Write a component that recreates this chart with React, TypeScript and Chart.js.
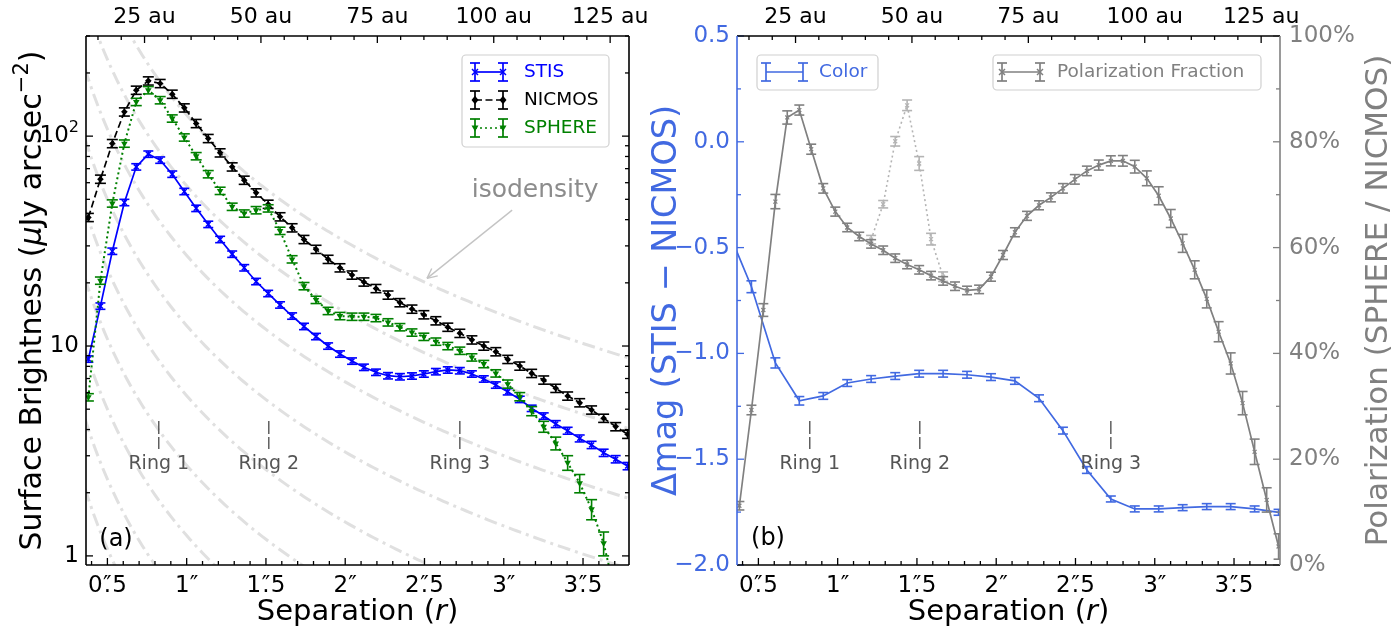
import React, { useEffect, useRef } from "react";
import { Chart, registerables } from "chart.js";

Chart.register(...registerables);

const W = 1395;
const H = 633;
const FONT = '"DejaVu Sans", "Liberation Sans", Arial, sans-serif';

// ---------------- data ----------------
const SEP = [
  0.380, 0.456, 0.531, 0.607, 0.682, 0.758, 0.833, 0.909, 0.985, 1.060,
  1.136, 1.211, 1.287, 1.363, 1.438, 1.514, 1.589, 1.665, 1.740, 1.816,
  1.892, 1.967, 2.043, 2.118, 2.194, 2.270, 2.345, 2.421, 2.496, 2.572,
  2.647, 2.723, 2.799, 2.874, 2.950, 3.025, 3.101, 3.176, 3.252, 3.328,
  3.403, 3.479, 3.554, 3.630, 3.706, 3.781,
];
const STIS = [
  8.67, 15.5, 28.3, 48.3, 71.4, 82.1, 76.9, 65.9, 54.5, 45.3,
  38.0, 32.2, 27.4, 23.6, 20.3, 17.8, 15.7, 13.9, 12.4, 11.1,
  10.0, 9.16, 8.48, 7.92, 7.50, 7.22, 7.14, 7.20, 7.36, 7.55,
  7.69, 7.63, 7.36, 6.97, 6.52, 6.06, 5.57, 5.05, 4.64, 4.25,
  3.95, 3.63, 3.38, 3.10, 2.89, 2.68,
];
const STIS_ERR = [
  0.035, 0.035, 0.035, 0.035, 0.035, 0.035, 0.035, 0.035, 0.035, 0.035,
  0.035, 0.035, 0.035, 0.035, 0.035, 0.035, 0.035, 0.035, 0.035, 0.035,
  0.035, 0.035, 0.035, 0.035, 0.035, 0.035, 0.035, 0.035, 0.035, 0.035,
  0.035, 0.035, 0.035, 0.035, 0.035, 0.035, 0.035, 0.035, 0.035, 0.038,
  0.038, 0.038, 0.04, 0.04, 0.04, 0.04,
];
const NICMOS = [
  41.0, 62.4, 92.2, 130.5, 165.6, 183.4, 178.2, 158.5, 136.4, 114.9,
  97.5, 83.3, 71.4, 61.7, 53.7, 47.4, 41.3, 36.6, 32.2, 28.9,
  25.9, 23.6, 21.8, 20.2, 18.8, 17.5, 16.1, 15.0, 14.1, 13.2,
  12.3, 11.5, 10.7, 10.0, 9.40, 8.64, 8.03, 7.41, 6.89, 6.29,
  5.78, 5.37, 4.96, 4.53, 4.13, 3.80,
];
const NICMOS_ERR = [
  0.045, 0.045, 0.045, 0.045, 0.045, 0.045, 0.045, 0.045, 0.045, 0.045,
  0.045, 0.045, 0.045, 0.045, 0.045, 0.045, 0.045, 0.045, 0.045, 0.045,
  0.045, 0.045, 0.045, 0.045, 0.045, 0.045, 0.045, 0.045, 0.045, 0.045,
  0.045, 0.045, 0.045, 0.045, 0.045, 0.045, 0.045, 0.045, 0.045, 0.045,
  0.045, 0.045, 0.045, 0.045, 0.045, 0.045,
];
const SPHERE = [
  5.70, 20.5, 47.8, 92.2, 145.6, 165.6, 148.4, 121.4, 98.6, 80.3,
  65.9, 54.9, 46.1, 42.8, 44.4, 45.3, 35.4, 25.9, 19.3, 16.6,
  14.7, 13.9, 13.8, 13.8, 13.6, 12.97, 12.3, 11.6, 11.07, 10.5,
  10.0, 9.50, 8.83, 8.21, 7.41, 6.59, 5.74, 4.90, 4.13, 3.44,
  2.78, 2.22, 1.67, 1.15, 0.65,
];
const SPHERE_ERR = [
  0.04, 0.04, 0.04, 0.04, 0.04, 0.04, 0.04, 0.04, 0.04, 0.04,
  0.04, 0.04, 0.04, 0.04, 0.04, 0.04, 0.04, 0.04, 0.04, 0.04,
  0.04, 0.04, 0.04, 0.04, 0.04, 0.04, 0.04, 0.04, 0.04, 0.04,
  0.04, 0.04, 0.04, 0.04, 0.04, 0.045, 0.045, 0.05, 0.06, 0.07,
  0.08, 0.10, 0.11, 0.13, 0.15,
];

const COLOR_SEP = [
  0.304, 0.456, 0.607, 0.758, 0.909, 1.060, 1.211, 1.363, 1.514, 1.665,
  1.816, 1.967, 2.118, 2.270, 2.421, 2.572, 2.723, 2.874, 3.025, 3.176,
  3.328, 3.479, 3.630, 3.781,
];
const COLOR = [
  -0.41, -0.685, -1.045, -1.224, -1.201, -1.140, -1.121, -1.107, -1.096, -1.096,
  -1.101, -1.112, -1.130, -1.212, -1.365, -1.551, -1.688, -1.735, -1.735, -1.729,
  -1.724, -1.724, -1.735, -1.751,
];
const COLOR_ERR = [
  0.03, 0.028, 0.024, 0.02, 0.016, 0.016, 0.016, 0.016, 0.016, 0.016,
  0.016, 0.016, 0.016, 0.016, 0.016, 0.016, 0.014, 0.014, 0.014, 0.014,
  0.014, 0.014, 0.014, 0.014,
];

const POL = [
  11.2, 29.3, 48.2, 68.7, 84.6, 86.0, 78.6, 71.2, 66.8, 63.8,
  62.1, 60.7, 59.5, 58.0, 56.8, 55.8, 54.7, 53.7, 52.7, 51.9,
  52.1, 54.5, 58.6, 62.9, 66.0, 68.0, 69.5, 71.2, 72.9, 74.5,
  75.6, 76.4, 76.4, 75.3, 73.1, 69.8, 65.5, 60.8, 55.8, 50.3,
  44.1, 38.1, 30.6, 21.4, 12.3, 3.5,
];
const POL_ERR = [
  0.8, 0.9, 1.2, 1.35, 1.25, 0.95, 0.95, 0.9, 0.85, 0.8,
  0.8, 0.8, 0.8, 0.8, 0.8, 0.8, 0.8, 0.8, 0.8, 0.8,
  0.8, 0.85, 0.85, 0.85, 0.85, 0.85, 0.85, 0.9, 0.9, 0.9,
  0.95, 0.95, 1.0, 1.2, 1.4, 1.7, 1.7, 1.7, 1.7, 1.7,
  1.9, 2.0, 2.2, 2.4, 2.3, 2.4,
];
const POL_ALT_SEP = [1.211, 1.287, 1.363, 1.438, 1.514, 1.589, 1.665];
const POL_ALT = [61.5, 68.2, 80.1, 86.9, 75.9, 61.6, 54.5];
const POL_ALT_ERR = [0.8, 0.7, 0.9, 1.0, 1.3, 1.1, 0.9];

// isodensity curve normalisations (SB at r = 1")
const ISO_NORMS = [126, 58, 27, 12.5, 5.8, 2.7, 1.25, 0.58, 0.27];

// axes / annotations
const X_MIN = 0.365;
const X_MAX = 3.79;
const AU_PER_ARCSEC = 34.05;
const X_MAJOR = [0.5, 1, 1.5, 2, 2.5, 3, 3.5];
const AU_MAJOR = [25, 50, 75, 100, 125];
const SB_MIN = 0.905;
const SB_MAX = 300;
const SB_MAJOR = [1, 10, 100];
const DMAG_MAJOR = [0.5, 0, -0.5, -1, -1.5, -2];
const DMAG_LABELS = ["0.5", "0.0", "\u22120.5", "\u22121.0", "\u22121.5", "\u22122.0"];
const POL_MAJOR = [0, 20, 40, 60, 80, 100];
const RINGS = [0.824, 1.518, 2.723];
const RING_LABELS = ["Ring 1", "Ring 2", "Ring 3"];

const C_STIS = "#0000ff";
const C_NIC = "#000000";
const C_SPH = "#008000";
const C_COLOR = "#4169e1";
const C_POL = "#808080";
const C_POL_ALT = "#b4b4b4";
const C_ISO = "#e0e0e0";

const FS_XTICK = 23;
const FS_TOP = 22;
const FS_YTICK = 23;
const FS_SEP_TITLE = 29;
const FS_SB_TITLE = 30;
const FS_DMAG_TITLE = 33.5;
const FS_POL_TITLE = 31;
const LEG_FS = 18.5;

// ---------------- helpers ----------------
const pts = (xs: number[], ys: number[]) => xs.map((x, i) => ({ x, y: ys[i] }));

function setFont(ctx: CanvasRenderingContext2D, fs: number, italic = false) {
  ctx.font = `${italic ? "italic " : ""}${fs}px ${FONT}`;
}

type Seg = { t: string; it?: boolean; sup?: boolean };
function richText(
  ctx: CanvasRenderingContext2D,
  segs: Seg[],
  cx: number,
  cy: number,
  fs: number,
  color: string,
  rot = 0,
  align: "center" | "left" | "right" = "center",
  vbase: "middle" | "alphabetic" = "middle"
) {
  ctx.save();
  ctx.translate(cx, cy);
  ctx.rotate(rot);
  const widths = segs.map((s) => {
    setFont(ctx, s.sup ? fs * 0.7 : fs, s.it);
    return ctx.measureText(s.t).width;
  });
  const total = widths.reduce((a, b) => a + b, 0);
  let x = align === "center" ? -total / 2 : align === "right" ? -total : 0;
  ctx.fillStyle = color;
  ctx.textBaseline = vbase;
  ctx.textAlign = "left";
  segs.forEach((s, i) => {
    setFont(ctx, s.sup ? fs * 0.7 : fs, s.it);
    ctx.fillText(s.t, x, s.sup ? -fs * 0.36 : 0);
    x += widths[i];
  });
  ctx.restore();
}

function arcsecLabel(ctx: CanvasRenderingContext2D, v: number, cx: number, cy: number, fs: number, color: string) {
  ctx.save();
  setFont(ctx, fs);
  ctx.fillStyle = color;
  ctx.textBaseline = "middle";
  ctx.textAlign = "left";
  const s = String(v);
  if (s.indexOf(".") < 0) {
    const t = s + "\u2033";
    const w = ctx.measureText(t).width;
    ctx.fillText(t, cx - w / 2, cy);
  } else {
    const [a, b] = s.split(".");
    const wa = ctx.measureText(a).width;
    const wd = fs * 0.42;
    const wb = ctx.measureText(b).width;
    const x = cx - (wa + wd + wb) / 2;
    ctx.fillText(a, x, cy);
    ctx.textAlign = "center";
    ctx.fillText(".", x + wa + wd / 2, cy);
    ctx.fillText("\u2033", x + wa + wd / 2, cy);
    ctx.textAlign = "left";
    ctx.fillText(b, x + wa + wd, cy);
  }
  ctx.restore();
}

function line(ctx: CanvasRenderingContext2D, x1: number, y1: number, x2: number, y2: number) {
  ctx.beginPath();
  ctx.moveTo(x1, y1);
  ctx.lineTo(x2, y2);
  ctx.stroke();
}

function marker(ctx: CanvasRenderingContext2D, type: string, x: number, y: number, r: number, color: string) {
  ctx.save();
  ctx.setLineDash([]);
  ctx.strokeStyle = color;
  ctx.fillStyle = color;
  ctx.lineWidth = 1.5;
  if (type === "x") {
    line(ctx, x - r, y - r, x + r, y + r);
    line(ctx, x - r, y + r, x + r, y - r);
  } else if (type === "D") {
    ctx.beginPath();
    ctx.moveTo(x, y - r * 1.2);
    ctx.lineTo(x + r, y);
    ctx.lineTo(x, y + r * 1.2);
    ctx.lineTo(x - r, y);
    ctx.closePath();
    ctx.fill();
  } else if (type === "v") {
    ctx.beginPath();
    ctx.moveTo(x - r, y - r * 0.7);
    ctx.lineTo(x + r, y - r * 0.7);
    ctx.lineTo(x, y + r * 1.0);
    ctx.closePath();
    ctx.fill();
  }
  ctx.restore();
}

function legendBox(ctx: CanvasRenderingContext2D, x: number, y: number, w: number, h: number) {
  ctx.save();
  ctx.beginPath();
  const r = 4;
  ctx.moveTo(x + r, y);
  ctx.arcTo(x + w, y, x + w, y + h, r);
  ctx.arcTo(x + w, y + h, x, y + h, r);
  ctx.arcTo(x, y + h, x, y, r);
  ctx.arcTo(x, y, x + w, y, r);
  ctx.closePath();
  ctx.fillStyle = "rgba(255,255,255,0.85)";
  ctx.fill();
  ctx.strokeStyle = "#d0d0d0";
  ctx.lineWidth = 1.2;
  ctx.stroke();
  ctx.restore();
}

function handle(
  ctx: CanvasRenderingContext2D,
  x1: number,
  x2: number,
  y: number,
  color: string,
  dash: number[],
  mtype: string
) {
  ctx.save();
  ctx.strokeStyle = color;
  ctx.lineWidth = 1.7;
  ctx.setLineDash(dash);
  line(ctx, x1, y, x2, y);
  ctx.setLineDash([]);
  ctx.lineWidth = 1.7;
  [x1, x2].forEach((x) => {
    line(ctx, x, y - 9, x, y + 9);
    line(ctx, x - 5, y - 9, x + 5, y - 9);
    line(ctx, x - 5, y + 9, x + 5, y + 9);
    if (mtype) marker(ctx, mtype, x, y, mtype === "x" ? 3 : 3.5, color);
  });
  ctx.restore();
}

function drawTicks(
  ctx: CanvasRenderingContext2D,
  side: "top" | "bottom" | "left" | "right",
  positions: number[],
  len: number,
  area: any,
  color: string
) {
  ctx.save();
  ctx.strokeStyle = color;
  ctx.lineWidth = 1.3;
  ctx.setLineDash([]);
  positions.forEach((p) => {
    if (side === "bottom") line(ctx, p, area.bottom, p, area.bottom - len);
    if (side === "top") line(ctx, p, area.top, p, area.top + len);
    if (side === "left") line(ctx, area.left, p, area.left + len, p);
    if (side === "right") line(ctx, area.right, p, area.right - len, p);
  });
  ctx.restore();
}

function arcsecAxes(ctx: CanvasRenderingContext2D, xs: any, area: any) {
  const maj: number[] = [];
  const min: number[] = [];
  for (let i = 4; i <= 37; i++) {
    const v = i / 10;
    if (v < X_MIN || v > X_MAX) continue;
    (i % 5 === 0 ? maj : min).push(xs.getPixelForValue(v));
  }
  drawTicks(ctx, "bottom", maj, 7, area, "#000");
  drawTicks(ctx, "bottom", min, 4, area, "#000");
  X_MAJOR.forEach((v) => arcsecLabel(ctx, v, xs.getPixelForValue(v), area.bottom + 21, FS_XTICK, "#000"));
  const amaj: number[] = [];
  const amin: number[] = [];
  for (let au = 5; au <= 125; au += 5) {
    const r = au / AU_PER_ARCSEC;
    if (r < X_MIN || r > X_MAX) continue;
    (au % 25 === 0 ? amaj : amin).push(xs.getPixelForValue(r));
  }
  drawTicks(ctx, "top", amaj, 7, area, "#000");
  drawTicks(ctx, "top", amin, 4, area, "#000");
  ctx.save();
  setFont(ctx, FS_TOP);
  ctx.fillStyle = "#000";
  ctx.textAlign = "center";
  ctx.textBaseline = "middle";
  AU_MAJOR.forEach((au) => ctx.fillText(`${au} au`, xs.getPixelForValue(au / AU_PER_ARCSEC), area.top - 19));
  ctx.restore();
  richText(
    ctx,
    [{ t: "Separation (" }, { t: "r", it: true }, { t: ")" }],
    (area.left + area.right) / 2,
    612,
    FS_SEP_TITLE,
    "#000"
  );
}

function rings(ctx: CanvasRenderingContext2D, xs: any, area: any) {
  ctx.save();
  RINGS.forEach((r, i) => {
    const x = xs.getPixelForValue(r);
    ctx.strokeStyle = "#555";
    ctx.lineWidth = 1.4;
    ctx.setLineDash([13, 3]);
    line(ctx, x, area.bottom - 144, x, area.bottom - 116);
    ctx.setLineDash([]);
    setFont(ctx, 19);
    ctx.fillStyle = "#555";
    ctx.textAlign = "center";
    ctx.textBaseline = "middle";
    ctx.fillText(RING_LABELS[i], x, area.bottom - 101);
  });
  ctx.restore();
}

function spines(ctx: CanvasRenderingContext2D, area: any, leftColor: string, rightColor: string) {
  ctx.save();
  ctx.lineWidth = 1.6;
  ctx.setLineDash([]);
  ctx.strokeStyle = "#000";
  line(ctx, area.left, area.top, area.right, area.top);
  line(ctx, area.left, area.bottom, area.right, area.bottom);
  ctx.strokeStyle = leftColor;
  line(ctx, area.left, area.top, area.left, area.bottom);
  ctx.strokeStyle = rightColor;
  line(ctx, area.right, area.top, area.right, area.bottom);
  ctx.restore();
}

// ---------------- plugins ----------------
const errorBarPlugin = {
  id: "errbars",
  afterDatasetDraw(chart: any, args: any) {
    const ds: any = chart.data.datasets[args.index];
    if (!ds.errs) return;
    const meta = args.meta;
    const xs = chart.scales[meta.xAxisID];
    const ys = chart.scales[meta.yAxisID];
    const ctx: CanvasRenderingContext2D = chart.ctx;
    const a = chart.chartArea;
    ctx.save();
    ctx.beginPath();
    ctx.rect(a.left, a.top, a.right - a.left, a.bottom - a.top);
    ctx.clip();
    ctx.strokeStyle = ds.borderColor;
    ctx.lineWidth = 1.6;
    ctx.setLineDash([]);
    const cap = ds.capHalf || 5;
    ds.data.forEach((p: any, i: number) => {
      const e = ds.errs[i];
      const x = xs.getPixelForValue(p.x);
      let lo = p.y - e;
      if (ys.type === "logarithmic" && lo <= 0) lo = ys.min * 0.01;
      const y1 = ys.getPixelForValue(lo);
      const y2 = ys.getPixelForValue(p.y + e);
      line(ctx, x, y1, x, y2);
      line(ctx, x - cap, y1, x + cap, y1);
      line(ctx, x - cap, y2, x + cap, y2);
    });
    ctx.restore();
  },
};

const leftDecor = {
  id: "leftDecor",
  afterDraw(chart: any) {
    const ctx: CanvasRenderingContext2D = chart.ctx;
    const a = chart.chartArea;
    const xs = chart.scales.x;
    const ys = chart.scales.y;
    // isodensity annotation
    ctx.save();
    const tx = xs.getPixelForValue(3.053), ty = ys.getPixelForValue(44.4);
    const hx = xs.getPixelForValue(2.516), hy = ys.getPixelForValue(21.0);
    ctx.strokeStyle = "#c4c4c4";
    ctx.lineWidth = 1.4;
    line(ctx, tx, ty, hx, hy);
    const ang = Math.atan2(hy - ty, hx - tx);
    const al = 11;
    line(ctx, hx, hy, hx - al * Math.cos(ang - 0.45), hy - al * Math.sin(ang - 0.45));
    line(ctx, hx, hy, hx - al * Math.cos(ang + 0.45), hy - al * Math.sin(ang + 0.45));
    setFont(ctx, 25);
    ctx.fillStyle = "#8c8c8c";
    ctx.textAlign = "center";
    ctx.textBaseline = "middle";
    ctx.fillText("isodensity", xs.getPixelForValue(3.198), ys.getPixelForValue(55.3));
    ctx.restore();

    rings(ctx, xs, a);

    // panel letter
    ctx.save();
    setFont(ctx, 24);
    ctx.fillStyle = "#000";
    ctx.textAlign = "center";
    ctx.textBaseline = "middle";
    ctx.fillText("(a)", a.left + 30, a.bottom - 25);
    ctx.restore();

    // legend
    legendBox(ctx, 462, 55, 147, 92);
    const entries = [
      { t: "STIS", c: C_STIS, d: [] as number[], m: "x", y: 72 },
      { t: "NICMOS", c: C_NIC, d: [7, 3.5], m: "D", y: 100 },
      { t: "SPHERE", c: C_SPH, d: [2, 3], m: "v", y: 128 },
    ];
    entries.forEach((e) => {
      handle(ctx, 475, 503, e.y, e.c, e.d, e.m);
      ctx.save();
      setFont(ctx, LEG_FS);
      ctx.fillStyle = e.c;
      ctx.textBaseline = "middle";
      ctx.textAlign = "left";
      ctx.fillText(e.t, 524, e.y);
      ctx.restore();
    });

    // y ticks (log)
    const maj: number[] = [];
    const min: number[] = [];
    [1, 10, 100].forEach((d) => {
      for (let m = 1; m <= 9; m++) {
        const v = d * m;
        if (v < SB_MIN || v > SB_MAX) continue;
        (m === 1 ? maj : min).push(ys.getPixelForValue(v));
      }
    });
    drawTicks(ctx, "left", maj, 7, a, "#000");
    drawTicks(ctx, "left", min, 4, a, "#000");
    drawTicks(ctx, "right", maj, 7, a, "#000");
    drawTicks(ctx, "right", min, 4, a, "#000");
    const lx = a.left - 7;
    richText(ctx, [{ t: "1" }], lx, ys.getPixelForValue(SB_MAJOR[0]), FS_YTICK, "#000", 0, "right");
    richText(ctx, [{ t: "10" }], lx, ys.getPixelForValue(SB_MAJOR[1]), FS_YTICK, "#000", 0, "right");
    richText(ctx, [{ t: "10" }, { t: "2", sup: true }], lx, ys.getPixelForValue(SB_MAJOR[2]), FS_YTICK, "#000", 0, "right");
    richText(
      ctx,
      [
        { t: "Surface Brightness (" },
        { t: "\u03bc", it: true },
        { t: "Jy arcsec" },
        { t: "\u22122", sup: true },
        { t: ")" },
      ],
      33,
      (a.top + a.bottom) / 2,
      FS_SB_TITLE,
      "#000",
      -Math.PI / 2
    );

    arcsecAxes(ctx, xs, a);
    spines(ctx, a, "#000", "#000");
  },
};

const rightDecor = {
  id: "rightDecor",
  afterDraw(chart: any) {
    const ctx: CanvasRenderingContext2D = chart.ctx;
    const a = chart.chartArea;
    const xs = chart.scales.x;
    const ys = chart.scales.y;
    const y2 = chart.scales.y2;

    rings(ctx, xs, a);

    ctx.save();
    setFont(ctx, 24);
    ctx.fillStyle = "#000";
    ctx.textAlign = "center";
    ctx.textBaseline = "middle";
    ctx.fillText("(b)", a.left + 31, a.bottom - 26);
    ctx.restore();

    // legends
    legendBox(ctx, 757, 55, 121, 35);
    handle(ctx, 766, 803, 72, C_COLOR, [], "");
    legendBox(ctx, 993, 55, 268, 35);
    handle(ctx, 1002, 1040, 72, C_POL, [], "x");
    ctx.save();
    setFont(ctx, LEG_FS);
    ctx.textBaseline = "middle";
    ctx.textAlign = "left";
    ctx.fillStyle = C_COLOR;
    ctx.fillText("Color", 819, 72);
    ctx.fillStyle = C_POL;
    ctx.fillText("Polarization Fraction", 1057, 72);
    ctx.restore();

    // left (delta mag) ticks
    const lmaj: number[] = [];
    const lmin: number[] = [];
    for (let i = -8; i <= 2; i++) {
      const v = i * 0.25;
      (i % 2 === 0 ? lmaj : lmin).push(ys.getPixelForValue(v));
    }
    drawTicks(ctx, "left", lmaj, 7, a, C_COLOR);
    drawTicks(ctx, "left", lmin, 4, a, C_COLOR);
    DMAG_MAJOR.forEach((v, i) =>
      richText(ctx, [{ t: DMAG_LABELS[i] }], a.left - 7, ys.getPixelForValue(v), FS_YTICK, C_COLOR, 0, "right")
    );
    // right (polarization) ticks
    const rmaj: number[] = [];
    const rmin: number[] = [];
    for (let p = 0; p <= 100; p += 10) (p % 20 === 0 ? rmaj : rmin).push(y2.getPixelForValue(p));
    drawTicks(ctx, "right", rmaj, 7, a, C_POL);
    drawTicks(ctx, "right", rmin, 4, a, C_POL);
    POL_MAJOR.forEach((p) =>
      richText(ctx, [{ t: `${p}%` }], a.right + 9, y2.getPixelForValue(p), FS_YTICK, C_POL, 0, "left")
    );

    richText(
      ctx,
      [{ t: "\u0394mag (STIS \u2212 NICMOS)" }],
      675.5,
      (a.top + a.bottom) / 2,
      FS_DMAG_TITLE,
      C_COLOR,
      -Math.PI / 2,
      "center",
      "alphabetic"
    );
    richText(
      ctx,
      [{ t: "Polarization (SPHERE / NICMOS)" }],
      1379,
      (a.top + a.bottom) / 2,
      FS_POL_TITLE,
      C_POL,
      -Math.PI / 2
    );

    arcsecAxes(ctx, xs, a);
    spines(ctx, a, C_COLOR, C_POL);
  },
};

// ---------------- component ----------------
export default function App() {
  const leftRef = useRef<HTMLCanvasElement | null>(null);
  const rightRef = useRef<HTMLCanvasElement | null>(null);

  useEffect(() => {
    const isoR: number[] = [];
    for (let r = 0.3; r <= 3.9; r += 0.02) isoR.push(r);
    const isoSets = ISO_NORMS.map((n) => ({
      label: "iso",
      data: isoR.map((r) => ({ x: r, y: n / (r * r) })),
      borderColor: C_ISO,
      borderWidth: 3,
      borderDash: [13, 5, 3, 5],
      pointRadius: 0,
      fill: false,
      order: 10,
    }));

    const common: any = {
      responsive: false,
      animation: false,
      devicePixelRatio: 1,
      events: [],
      plugins: { legend: { display: false }, tooltip: { enabled: false } },
    };

    const left = new Chart(leftRef.current as HTMLCanvasElement, {
      type: "line",
      data: {
        datasets: [
          ...isoSets,
          {
            label: "STIS",
            data: pts(SEP, STIS),
            errs: STIS.map((v, i) => v * STIS_ERR[i]),
            capHalf: 5,
            borderColor: C_STIS,
            backgroundColor: C_STIS,
            borderWidth: 1.7,
            pointStyle: "crossRot",
            pointRadius: 3.5,
            pointBorderWidth: 1.5,
            pointBorderColor: C_STIS,
            order: 3,
          },
          {
            label: "NICMOS",
            data: pts(SEP, NICMOS),
            errs: NICMOS.map((v, i) => v * NICMOS_ERR[i]),
            capHalf: 5.5,
            borderColor: C_NIC,
            backgroundColor: C_NIC,
            borderWidth: 1.7,
            borderDash: [7, 3.5],
            pointStyle: "rectRot",
            pointRadius: 3.3,
            pointBorderWidth: 0,
            order: 2,
          },
          {
            label: "SPHERE",
            data: pts(SEP.slice(0, SPHERE.length), SPHERE),
            errs: SPHERE.map((v, i) => v * SPHERE_ERR[i]),
            capHalf: 5.5,
            borderColor: C_SPH,
            backgroundColor: C_SPH,
            borderWidth: 2,
            borderDash: [2, 3],
            pointStyle: "triangle",
            rotation: 180,
            pointRadius: 3.8,
            pointBorderWidth: 0,
            order: 1,
          },
        ] as any,
      },
      options: {
        ...common,
        layout: { padding: { left: 86, right: W - 629, top: 36, bottom: H - 565 } },
        scales: {
          x: { type: "linear", min: X_MIN, max: X_MAX, display: false },
          y: { type: "logarithmic", min: SB_MIN, max: SB_MAX, display: false },
        },
      },
      plugins: [errorBarPlugin, leftDecor],
    } as any);

    const right = new Chart(rightRef.current as HTMLCanvasElement, {
      type: "line",
      data: {
        datasets: [
          {
            label: "Color",
            data: pts(COLOR_SEP, COLOR),
            errs: COLOR_ERR,
            capHalf: 5,
            yAxisID: "y",
            borderColor: C_COLOR,
            backgroundColor: C_COLOR,
            borderWidth: 1.7,
            pointRadius: 0,
            order: 3,
          },
          {
            label: "PolAlt",
            data: pts(POL_ALT_SEP, POL_ALT),
            errs: POL_ALT_ERR,
            capHalf: 5,
            yAxisID: "y2",
            borderColor: C_POL_ALT,
            backgroundColor: C_POL_ALT,
            borderWidth: 1.6,
            borderDash: [2, 3],
            pointStyle: "crossRot",
            pointRadius: 2.8,
            pointBorderWidth: 1.2,
            pointBorderColor: C_POL_ALT,
            order: 2,
          },
          {
            label: "Polarization Fraction",
            data: pts(SEP, POL),
            errs: POL_ERR,
            capHalf: 5,
            yAxisID: "y2",
            borderColor: C_POL,
            backgroundColor: C_POL,
            borderWidth: 1.7,
            pointStyle: "crossRot",
            pointRadius: 2.8,
            pointBorderWidth: 1.2,
            pointBorderColor: C_POL,
            order: 1,
          },
        ] as any,
      },
      options: {
        ...common,
        layout: { padding: { left: 737, right: W - 1280, top: 36, bottom: H - 565 } },
        scales: {
          x: { type: "linear", min: X_MIN, max: X_MAX, display: false },
          y: { type: "linear", min: -2, max: 0.5, display: false },
          y2: { type: "linear", min: 0, max: 100, display: false },
        },
      },
      plugins: [errorBarPlugin, rightDecor],
    } as any);

    return () => {
      left.destroy();
      right.destroy();
    };
  }, []);

  const cs: React.CSSProperties = { position: "absolute", left: 0, top: 0, width: W, height: H };
  return (
    <div style={{ position: "fixed", left: 0, top: 0, width: W, height: H, background: "#fff" }}>
      <canvas ref={leftRef} width={W} height={H} style={cs} />
      <canvas ref={rightRef} width={W} height={H} style={cs} />
    </div>
  );
}
